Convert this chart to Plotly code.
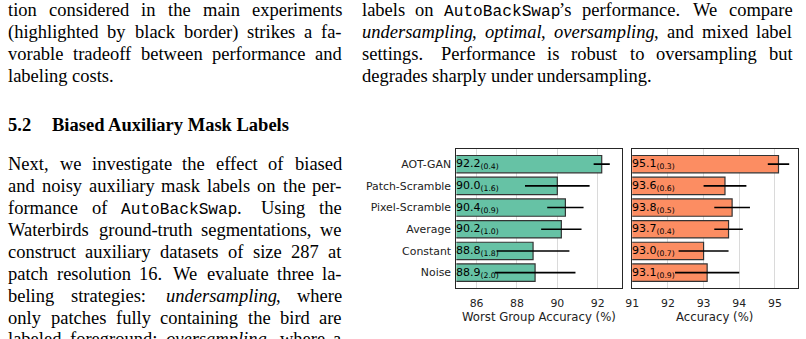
import re
import plotly.graph_objects as go

# ---------------- data ----------------
methods = ["AOT-GAN", "Patch-Scramble", "Pixel-Scramble", "Average", "Constant", "Noise"]
wga_mean = [92.2, 90.0, 90.4, 90.2, 88.8, 88.9]
wga_std = [0.4, 1.6, 0.9, 1.0, 1.8, 2.0]
acc_mean = [95.1, 93.6, 93.8, 93.7, 93.0, 93.1]
acc_std = [0.3, 0.6, 0.5, 0.4, 0.7, 0.9]
wga_ticks = [86, 88, 90, 92]
acc_ticks = [91, 92, 93, 94, 95]

left_top_lines = [
    "tion considered in the main experiments",
    "(highlighted by black border) strikes a fa-",
    "vorable tradeoff between performance and",
    "labeling costs.",
]
right_top_lines = [
    "labels on `AutoBackSwap`\u2019s performance. We compare",
    "*undersampling*, *optimal*, *oversampling*, and mixed label",
    "settings. Performance is robust to oversampling but",
    "degrades sharply under undersampling.",
]
heading_num = "5.2"
heading_text = "Biased Auxiliary Mask Labels"
body_lines = [
    "Next, we investigate the effect of biased",
    "and noisy auxiliary mask labels on the per-",
    "formance of `AutoBackSwap`. Using the",
    "Waterbirds ground-truth segmentations, we",
    "construct auxiliary datasets of size 287 at",
    "patch resolution 16. We evaluate three la-",
    "beling strategies: *undersampling*, where",
    "only patches fully containing the bird are",
    "labeled foreground; *oversampling*, where a",
]

# ---------------- page text layout helpers ----------------
W, H = 806, 339
S = 18.5                 # serif font size
S_TT = S * 0.525 / 0.6   # mono font size so that glyph width = 0.525em
SERIF = "Liberation Serif"
MONO = "Liberation Mono"
PITCH = 21.9
XOFF = -6.0              # compensation for annotation text inset

TR = {' ': 250, '%': 833, "'": 180, '(': 333, ')': 333, ',': 250, '-': 333, '.': 250,
      ':': 278, ';': 278, '\u2019': 333,
      'A': 722, 'B': 667, 'C': 667, 'D': 722, 'E': 611, 'F': 556, 'G': 722, 'H': 722,
      'I': 333, 'J': 389, 'K': 722, 'L': 611, 'M': 889, 'N': 722, 'O': 722, 'P': 556,
      'Q': 722, 'R': 667, 'S': 556, 'T': 611, 'U': 722, 'V': 722, 'W': 944, 'X': 722,
      'Y': 722, 'Z': 611,
      'a': 444, 'b': 500, 'c': 444, 'd': 500, 'e': 444, 'f': 333, 'g': 500, 'h': 500,
      'i': 278, 'j': 278, 'k': 500, 'l': 278, 'm': 778, 'n': 500, 'o': 500, 'p': 500,
      'q': 500, 'r': 333, 's': 389, 't': 278, 'u': 500, 'v': 500, 'w': 722, 'x': 500,
      'y': 500, 'z': 444}
for d in "0123456789":
    TR[d] = 500
TI = dict(TR)
TI.update({'a': 500, 'f': 278, 'k': 444, 'm': 722, 'r': 389, 'v': 444, 'w': 667,
           'x': 444, 'y': 444, 'z': 389})

TOKEN = re.compile(r'`([^`]*)`|\*([^*]*)\*|([^`*]+)')


def parse(word):
    segs = []
    for m in TOKEN.finditer(word):
        if m.group(1) is not None:
            segs.append((m.group(1), 'tt'))
        elif m.group(2) is not None:
            segs.append((m.group(2), 'i'))
        else:
            segs.append((m.group(3), 'r'))
    return segs


def seg_w(text, style):
    if style == 'tt':
        return len(text) * 0.6 * S_TT
    tab = TI if style == 'i' else TR
    return sum(tab.get(c, 500) for c in text) * S / 1000.0


annotations = []


def add_seg(text, style, x, baseline):
    if style == 'tt':
        fam, size, off = MONO, S_TT, (0.833 - 0.300) / 2
        txt = text
    else:
        fam, size, off = SERIF, S, (0.891 - 0.216) / 2
        txt = f"<i>{text}</i>" if style == 'i' else text
    annotations.append(dict(
        text=txt, x=(x + XOFF) / W, y=1 - (baseline - off * size) / H,
        xref="paper", yref="paper", xanchor="left", yanchor="middle",
        showarrow=False, borderpad=0, borderwidth=0,
        font=dict(family=fam, size=size, color="black")))


def layout_line(line, x0, x1, baseline, justify):
    words = line.split(' ')
    parsed = [parse(w) for w in words]
    widths = [sum(seg_w(t, st) for t, st in p) for p in parsed]
    nat, k = [], []
    for w in words[:-1]:
        plain = w.replace('`', '').replace('*', '')
        if plain.endswith('.'):
            nat.append(0.27 * S); k.append(1.6)
        elif plain.endswith(':'):
            nat.append(0.26 * S); k.append(1.3)
        else:
            nat.append(0.25 * S); k.append(1.0)
    extra = (x1 - x0) - sum(widths) - sum(nat) if justify and len(words) > 1 else 0
    x = x0
    for i, p in enumerate(parsed):
        xx = x
        for t, st in p:
            add_seg(t, st, xx, baseline)
            xx += seg_w(t, st)
        x += widths[i]
        if i < len(nat):
            x += nat[i] + extra * k[i] / sum(k)


LX0, LX1 = 7.5, 343.5
RX0, RX1 = 364.5, 798.0
TOP_BASE = 16.5
for i, ln in enumerate(left_top_lines):
    layout_line(ln, LX0, LX1, TOP_BASE + i * PITCH, i < len(left_top_lines) - 1)
for i, ln in enumerate(right_top_lines):
    layout_line(ln, RX0, RX1, TOP_BASE + i * PITCH, i < len(right_top_lines) - 1)

HEAD_BASE = 131.5
for txt, hx in ((heading_num, LX0), (heading_text, 51.5)):
    annotations.append(dict(
        text=f"<b>{txt}</b>", x=(hx + XOFF) / W, y=1 - (HEAD_BASE - 0.3375 * S) / H,
        xref="paper", yref="paper", xanchor="left", yanchor="middle",
        showarrow=False, borderpad=0, borderwidth=0,
        font=dict(family=SERIF, size=S, color="black")))

BODY_BASE = 170.5
for i, ln in enumerate(body_lines):
    layout_line(ln, LX0, LX1, BODY_BASE + i * PITCH, True)

# ---------------- chart ----------------
CH_FONT = "DejaVu Sans"
TXT = "#222222"
FRAME = "#262626"
GREEN = "#66c2a5"
ORANGE = "#fc8d62"

y_top, y_bot = 149.2, 287.6
ydom = [1 - y_bot / H, 1 - y_top / H]
x1dom = [453.3 / W, 620.7 / W]
x2dom = [630.7 / W, 797.7 / W]

fig = go.Figure()
fig.add_trace(go.Bar(
    y=methods, x=wga_mean, orientation="h", width=0.8,
    marker=dict(color=GREEN, line=dict(color="#333333", width=1.2)),
    error_x=dict(type="data", array=wga_std, color="black", thickness=1.6, width=0),
    xaxis="x", yaxis="y", hoverinfo="skip"))
fig.add_trace(go.Bar(
    y=methods, x=acc_mean, orientation="h", width=0.8,
    marker=dict(color=ORANGE, line=dict(color="#333333", width=1.2)),
    error_x=dict(type="data", array=acc_std, color="black", thickness=1.6, width=0),
    xaxis="x2", yaxis="y2", hoverinfo="skip"))

x1range = [85, 93.22]
x2range = [91, 95.64]

for m, mu, sd in zip(methods, wga_mean, wga_std):
    annotations.append(dict(
        text=f"{mu:.1f}<sub>({sd:.1f})</sub>", x=x1range[0], y=m, xref="x", yref="y",
        xanchor="left", yanchor="middle", xshift=-0.5, showarrow=False,
        borderpad=0, borderwidth=0, font=dict(family=CH_FONT, size=11, color="black")))
for m, mu, sd in zip(methods, acc_mean, acc_std):
    annotations.append(dict(
        text=f"{mu:.1f}<sub>({sd:.1f})</sub>", x=x2range[0], y=m, xref="x2", yref="y2",
        xanchor="left", yanchor="middle", xshift=-0.5, showarrow=False,
        borderpad=0, borderwidth=0, font=dict(family=CH_FONT, size=11, color="black")))

annotations.append(dict(
    text="Worst Group Accuracy (%)", x=(x1dom[0] + x1dom[1]) / 2, y=1 - 316.5 / H,
    xref="paper", yref="paper", xanchor="center", yanchor="middle", showarrow=False,
    font=dict(family=CH_FONT, size=11.7, color=TXT)))
annotations.append(dict(
    text="Accuracy (%)", x=(x2dom[0] + x2dom[1]) / 2, y=1 - 316.5 / H,
    xref="paper", yref="paper", xanchor="center", yanchor="middle", showarrow=False,
    font=dict(family=CH_FONT, size=11.7, color=TXT)))

axis_common = dict(showline=True, mirror=True, linecolor=FRAME, linewidth=1.2,
                   ticks="", zeroline=False, tickfont=dict(family=CH_FONT, size=10.9, color=TXT))

fig.update_layout(
    width=W, height=H, margin=dict(l=0, r=0, t=0, b=0),
    paper_bgcolor="white", plot_bgcolor="white", showlegend=False,
    bargap=0.2,
    xaxis=dict(domain=x1dom, anchor="y", range=x1range, tickvals=wga_ticks,
               showgrid=True, gridcolor="#dadada", gridwidth=1, ticklabelstandoff=5,
               **axis_common),
    xaxis2=dict(domain=x2dom, anchor="y2", range=x2range, tickvals=acc_ticks,
                showgrid=True, gridcolor="#dadada", gridwidth=1, ticklabelstandoff=5,
                **axis_common),
    yaxis=dict(domain=ydom, anchor="x", type="category", categoryorder="array",
               categoryarray=methods, range=[5.69, -0.69], showgrid=False,
               ticklabelstandoff=2, **axis_common),
    yaxis2=dict(domain=ydom, anchor="x2", type="category", categoryorder="array",
                categoryarray=methods, range=[5.69, -0.69], showgrid=False,
                showticklabels=False, **axis_common),
    annotations=annotations,
)

fig.write_html("out.html")
